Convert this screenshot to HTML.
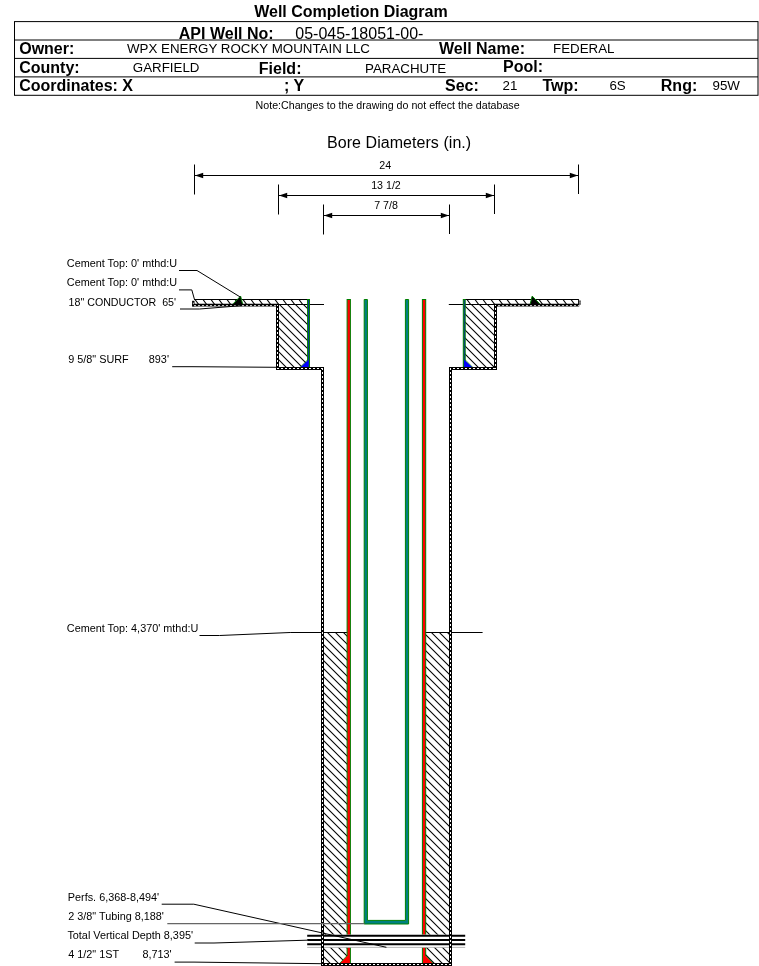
<!DOCTYPE html>
<html><head><meta charset="utf-8"><title>Well Completion Diagram</title>
<style>
html,body{margin:0;padding:0;background:#fff;}
body{width:759px;height:966px;overflow:hidden;font-family:"Liberation Sans",sans-serif;}
svg{display:block;position:absolute;left:0;top:0;will-change:transform;}
text{font-family:"Liberation Sans",sans-serif;fill:#000;white-space:pre;}
.b{font-weight:bold;font-size:16px;}
.v{font-size:13.33px;}
.s{font-size:10.67px;}
.l{font-size:10.85px;}
.ln{stroke:#000;stroke-width:1;fill:none;}
</style></head><body>
<svg width="759" height="966" viewBox="0 0 759 966">
<rect x="0" y="0" width="759" height="966" fill="#fff"/>

<text class="b" x="254.2" y="16.6" textLength="193.5">Well Completion Diagram</text>
<rect x="14.5" y="21.6" width="743.5" height="73.69999999999999" class="ln"/>
<line x1="14.5" y1="40.0" x2="758.0" y2="40.0" class="ln"/>
<line x1="14.5" y1="58.4" x2="758.0" y2="58.4" class="ln"/>
<line x1="14.5" y1="76.9" x2="758.0" y2="76.9" class="ln"/>
<text class="b" x="178.8" y="38.6" >API Well No:</text>
<text class="v" x="295.3" y="39.2" style="font-size:16px">05-045-18051-00-</text>
<text class="b" x="19.2" y="53.8" >Owner:</text>
<text class="v" x="127.0" y="53.4" >WPX ENERGY ROCKY MOUNTAIN LLC</text>
<text class="b" x="439.0" y="53.6" >Well Name:</text>
<text class="v" x="553.0" y="53.2" >FEDERAL</text>
<text class="b" x="19.2" y="72.5" >County:</text>
<text class="v" x="132.8" y="71.9" >GARFIELD</text>
<text class="b" x="258.8" y="74.4" >Field:</text>
<text class="v" x="365.0" y="73.3" >PARACHUTE</text>
<text class="b" x="503.0" y="72.0" >Pool:</text>
<text class="b" x="19.2" y="90.5" >Coordinates: X</text>
<text class="b" x="284.0" y="91.3" >; Y</text>
<text class="b" x="445.0" y="91.2" >Sec:</text>
<text class="v" x="502.6" y="89.8" >21</text>
<text class="b" x="542.4" y="91.2" >Twp:</text>
<text class="v" x="609.4" y="89.8" >6S</text>
<text class="b" x="660.8" y="91.2" >Rng:</text>
<text class="v" x="712.5" y="89.8" >95W</text>
<text class="s" x="255.6" y="108.7" >Note:Changes to the drawing do not effect the database</text>
<text class="v" x="327.0" y="148.1" style="font-size:16px" textLength="144.2">Bore Diameters (in.)</text>
<line x1="194.5" y1="164.5" x2="194.5" y2="194.5" class="ln"/>
<line x1="578.5" y1="164.5" x2="578.5" y2="194.0" class="ln"/>
<line x1="194.5" y1="175.5" x2="578.5" y2="175.5" class="ln"/>
<path d="M195.0,175.5 l8.2,-2.8 v5.6 z" fill="#000"/>
<path d="M578.0,175.5 l-8.2,-2.8 v5.6 z" fill="#000"/>
<text class="s" x="385.3" y="168.8" text-anchor="middle">24</text>
<line x1="278.5" y1="184.5" x2="278.5" y2="214.5" class="ln"/>
<line x1="494.5" y1="184.5" x2="494.5" y2="214.0" class="ln"/>
<line x1="278.5" y1="195.5" x2="494.5" y2="195.5" class="ln"/>
<path d="M279.0,195.5 l8.2,-2.8 v5.6 z" fill="#000"/>
<path d="M494.0,195.5 l-8.2,-2.8 v5.6 z" fill="#000"/>
<text class="s" x="386.0" y="189.0" text-anchor="middle">13 1/2</text>
<line x1="323.5" y1="204.5" x2="323.5" y2="234.5" class="ln"/>
<line x1="449.5" y1="204.5" x2="449.5" y2="234.0" class="ln"/>
<line x1="323.5" y1="215.5" x2="449.5" y2="215.5" class="ln"/>
<path d="M324.0,215.5 l8.2,-2.8 v5.6 z" fill="#000"/>
<path d="M449.0,215.5 l-8.2,-2.8 v5.6 z" fill="#000"/>
<text class="s" x="386.0" y="208.8" text-anchor="middle">7 7/8</text>
<clipPath id="c1"><polygon points="278.40,304.30 308.40,304.30 308.40,367.60 278.40,367.60"/></clipPath>
<polygon points="278.40,304.30 308.40,304.30 308.40,367.60 278.40,367.60" fill="#fff"/>
<path d="M277.40,262.50L309.40,294.50M277.40,270.50L309.40,302.50M277.40,278.50L309.40,310.50M277.40,286.50L309.40,318.50M277.40,294.50L309.40,326.50M277.40,302.50L309.40,334.50M277.40,310.50L309.40,342.50M277.40,318.50L309.40,350.50M277.40,326.50L309.40,358.50M277.40,334.50L309.40,366.50M277.40,342.50L309.40,374.50M277.40,350.50L309.40,382.50M277.40,358.50L309.40,390.50M277.40,366.50L309.40,398.50M277.40,374.50L309.40,406.50M277.40,382.50L309.40,414.50" stroke="#000" stroke-width="1.05" fill="none" clip-path="url(#c1)"/>
<clipPath id="c2"><polygon points="464.40,304.30 494.40,304.30 494.40,367.60 464.40,367.60"/></clipPath>
<polygon points="464.40,304.30 494.40,304.30 494.40,367.60 464.40,367.60" fill="#fff"/>
<path d="M463.40,264.50L495.40,296.50M463.40,272.50L495.40,304.50M463.40,280.50L495.40,312.50M463.40,288.50L495.40,320.50M463.40,296.50L495.40,328.50M463.40,304.50L495.40,336.50M463.40,312.50L495.40,344.50M463.40,320.50L495.40,352.50M463.40,328.50L495.40,360.50M463.40,336.50L495.40,368.50M463.40,344.50L495.40,376.50M463.40,352.50L495.40,384.50M463.40,360.50L495.40,392.50M463.40,368.50L495.40,400.50M463.40,376.50L495.40,408.50" stroke="#000" stroke-width="1.05" fill="none" clip-path="url(#c2)"/>
<clipPath id="c3"><polygon points="194.00,299.50 308.40,299.50 308.40,304.50 194.00,304.50"/></clipPath>
<polygon points="194.00,299.50 308.40,299.50 308.40,304.50 194.00,304.50" fill="#fff"/>
<path d="M178.26,298.50L183.44,305.50M186.26,298.50L191.44,305.50M194.26,298.50L199.44,305.50M202.26,298.50L207.44,305.50M210.26,298.50L215.44,305.50M218.26,298.50L223.44,305.50M226.26,298.50L231.44,305.50M234.26,298.50L239.44,305.50M242.26,298.50L247.44,305.50M250.26,298.50L255.44,305.50M258.26,298.50L263.44,305.50M266.26,298.50L271.44,305.50M274.26,298.50L279.44,305.50M282.26,298.50L287.44,305.50M290.26,298.50L295.44,305.50M298.26,298.50L303.44,305.50M306.26,298.50L311.44,305.50M314.26,298.50L319.44,305.50M322.26,298.50L327.44,305.50" stroke="#000" stroke-width="1.05" fill="none" clip-path="url(#c3)"/>
<line x1="194.00" y1="299.50" x2="308.40" y2="299.50" class="ln"/>
<line x1="194.00" y1="304.50" x2="308.40" y2="304.50" class="ln"/>
<clipPath id="c4"><polygon points="464.40,299.50 578.80,299.50 578.80,304.50 464.40,304.50"/></clipPath>
<polygon points="464.40,299.50 578.80,299.50 578.80,304.50 464.40,304.50" fill="#fff"/>
<path d="M450.26,298.50L455.44,305.50M458.26,298.50L463.44,305.50M466.26,298.50L471.44,305.50M474.26,298.50L479.44,305.50M482.26,298.50L487.44,305.50M490.26,298.50L495.44,305.50M498.26,298.50L503.44,305.50M506.26,298.50L511.44,305.50M514.26,298.50L519.44,305.50M522.26,298.50L527.44,305.50M530.26,298.50L535.44,305.50M538.26,298.50L543.44,305.50M546.26,298.50L551.44,305.50M554.26,298.50L559.44,305.50M562.26,298.50L567.44,305.50M570.26,298.50L575.44,305.50M578.26,298.50L583.44,305.50M586.26,298.50L591.44,305.50M594.26,298.50L599.44,305.50" stroke="#000" stroke-width="1.05" fill="none" clip-path="url(#c4)"/>
<line x1="464.40" y1="299.50" x2="578.80" y2="299.50" class="ln"/>
<line x1="464.40" y1="304.50" x2="578.80" y2="304.50" class="ln"/>
<clipPath id="c5"><polygon points="323.40,632.50 348.40,632.50 348.40,963.50 323.40,963.50"/></clipPath>
<polygon points="323.40,632.50 348.40,632.50 348.40,963.50 323.40,963.50" fill="#fff"/>
<path d="M322.40,595.50L349.40,622.50M322.40,603.50L349.40,630.50M322.40,611.50L349.40,638.50M322.40,619.50L349.40,646.50M322.40,627.50L349.40,654.50M322.40,635.50L349.40,662.50M322.40,643.50L349.40,670.50M322.40,651.50L349.40,678.50M322.40,659.50L349.40,686.50M322.40,667.50L349.40,694.50M322.40,675.50L349.40,702.50M322.40,683.50L349.40,710.50M322.40,691.50L349.40,718.50M322.40,699.50L349.40,726.50M322.40,707.50L349.40,734.50M322.40,715.50L349.40,742.50M322.40,723.50L349.40,750.50M322.40,731.50L349.40,758.50M322.40,739.50L349.40,766.50M322.40,747.50L349.40,774.50M322.40,755.50L349.40,782.50M322.40,763.50L349.40,790.50M322.40,771.50L349.40,798.50M322.40,779.50L349.40,806.50M322.40,787.50L349.40,814.50M322.40,795.50L349.40,822.50M322.40,803.50L349.40,830.50M322.40,811.50L349.40,838.50M322.40,819.50L349.40,846.50M322.40,827.50L349.40,854.50M322.40,835.50L349.40,862.50M322.40,843.50L349.40,870.50M322.40,851.50L349.40,878.50M322.40,859.50L349.40,886.50M322.40,867.50L349.40,894.50M322.40,875.50L349.40,902.50M322.40,883.50L349.40,910.50M322.40,891.50L349.40,918.50M322.40,899.50L349.40,926.50M322.40,907.50L349.40,934.50M322.40,915.50L349.40,942.50M322.40,923.50L349.40,950.50M322.40,931.50L349.40,958.50M322.40,939.50L349.40,966.50M322.40,947.50L349.40,974.50M322.40,955.50L349.40,982.50M322.40,963.50L349.40,990.50M322.40,971.50L349.40,998.50" stroke="#000" stroke-width="1.05" fill="none" clip-path="url(#c5)"/>
<line x1="323.40" y1="632.50" x2="348.40" y2="632.50" class="ln"/>
<clipPath id="c6"><polygon points="424.40,632.50 449.40,632.50 449.40,963.50 424.40,963.50"/></clipPath>
<polygon points="424.40,632.50 449.40,632.50 449.40,963.50 424.40,963.50" fill="#fff"/>
<path d="M423.40,592.50L450.40,619.50M423.40,600.50L450.40,627.50M423.40,608.50L450.40,635.50M423.40,616.50L450.40,643.50M423.40,624.50L450.40,651.50M423.40,632.50L450.40,659.50M423.40,640.50L450.40,667.50M423.40,648.50L450.40,675.50M423.40,656.50L450.40,683.50M423.40,664.50L450.40,691.50M423.40,672.50L450.40,699.50M423.40,680.50L450.40,707.50M423.40,688.50L450.40,715.50M423.40,696.50L450.40,723.50M423.40,704.50L450.40,731.50M423.40,712.50L450.40,739.50M423.40,720.50L450.40,747.50M423.40,728.50L450.40,755.50M423.40,736.50L450.40,763.50M423.40,744.50L450.40,771.50M423.40,752.50L450.40,779.50M423.40,760.50L450.40,787.50M423.40,768.50L450.40,795.50M423.40,776.50L450.40,803.50M423.40,784.50L450.40,811.50M423.40,792.50L450.40,819.50M423.40,800.50L450.40,827.50M423.40,808.50L450.40,835.50M423.40,816.50L450.40,843.50M423.40,824.50L450.40,851.50M423.40,832.50L450.40,859.50M423.40,840.50L450.40,867.50M423.40,848.50L450.40,875.50M423.40,856.50L450.40,883.50M423.40,864.50L450.40,891.50M423.40,872.50L450.40,899.50M423.40,880.50L450.40,907.50M423.40,888.50L450.40,915.50M423.40,896.50L450.40,923.50M423.40,904.50L450.40,931.50M423.40,912.50L450.40,939.50M423.40,920.50L450.40,947.50M423.40,928.50L450.40,955.50M423.40,936.50L450.40,963.50M423.40,944.50L450.40,971.50M423.40,952.50L450.40,979.50M423.40,960.50L450.40,987.50M423.40,968.50L450.40,995.50M423.40,976.50L450.40,1003.50" stroke="#000" stroke-width="1.05" fill="none" clip-path="url(#c6)"/>
<line x1="424.40" y1="632.50" x2="449.40" y2="632.50" class="ln"/>
<line x1="309.4" y1="304.5" x2="324.0" y2="304.5" class="ln"/>
<line x1="448.79999999999995" y1="304.5" x2="463.4" y2="304.5" class="ln"/>
<line x1="449.4" y1="632.5" x2="482.6" y2="632.5" class="ln"/>
<rect x="307.59999999999997" y="299.5" width="1.9" height="67.60000000000002" fill="#0a2fa0" stroke="#008000" stroke-width="1"/>
<rect x="463.29999999999995" y="299.5" width="1.9" height="67.60000000000002" fill="#0a2fa0" stroke="#008000" stroke-width="1"/>
<path d="M308.59999999999997,359.6 L308.59999999999997,367.20000000000005 L300.2,367.20000000000005 z" fill="#0000ff"/>
<path d="M307.79999999999995,359.6 L300.2,367.20000000000005" stroke="#008000" stroke-width="0.7" fill="none"/>
<path d="M464.2,359.6 L464.2,367.20000000000005 L472.59999999999997,367.20000000000005 z" fill="#0000ff"/>
<path d="M465.0,359.6 L472.59999999999997,367.20000000000005" stroke="#008000" stroke-width="0.7" fill="none"/>
<path d="M240.59999999999997,296.1 L242.59999999999997,304.3 L232.99999999999997,304.3 z" fill="#000"/>
<path d="M232.99999999999997,303.9 L240.59999999999997,296.1 L242.59999999999997,303.9" fill="none" stroke="#008000" stroke-width="1" stroke-linejoin="round"/>
<path d="M532.1999999999999,296.1 L530.1999999999999,304.3 L539.8,304.3 z" fill="#000"/>
<path d="M539.8,303.9 L532.1999999999999,296.1 L530.1999999999999,303.9" fill="none" stroke="#008000" stroke-width="1" stroke-linejoin="round"/>
<rect x="347.09999999999997" y="299.5" width="3.3" height="664.0" fill="#ff0000" stroke="#008000" stroke-width="1"/>
<rect x="422.4" y="299.5" width="3.3" height="664.0" fill="#ff0000" stroke="#008000" stroke-width="1"/>
<path d="M348.0,955.1 L348.0,963.2 L339.79999999999995,963.2 z" fill="#ff0000"/>
<path d="M347.5,955.1 L339.79999999999995,963.2" stroke="#008000" stroke-width="0.8" fill="none"/>
<path d="M424.79999999999995,955.1 L424.79999999999995,963.2 L433.0,963.2 z" fill="#ff0000"/>
<path d="M425.29999999999995,955.1 L433.0,963.2" stroke="#008000" stroke-width="0.8" fill="none"/>
<path d="M364.2,299.5 H367.4 V920.4 H405.4 V299.5 H408.59999999999997 V924.0 H364.2 z" fill="#008080" stroke="#008000" stroke-width="1"/>
<rect x="307.2" y="934.6" width="158" height="12.6" fill="#fff"/>
<line x1="307.2" y1="935.8" x2="465.2" y2="935.8" stroke="#000" stroke-width="1.9"/>
<line x1="307.2" y1="940.0" x2="465.2" y2="940.0" stroke="#000" stroke-width="1.9"/>
<line x1="307.2" y1="944.2" x2="465.2" y2="944.2" stroke="#000" stroke-width="1.9"/>
<line x1="307.2" y1="947.4" x2="465.2" y2="947.4" stroke="#b0b0b0" stroke-width="0.9"/>
<path d="M277.5,304V370M322.5,367V966M450.5,367V966M495.5,304V370M276,368.5H324M321,964.5H452M449,368.5H497" stroke="#000" stroke-width="3" fill="none"/>
<path d="M192.2,305.15H279M494,305.15H579.2" stroke="#000" stroke-width="2.7" fill="none"/>
<path d="M193.3,300.8V306.4" stroke="#000" stroke-width="2.4" fill="none"/>
<path d="M580.0,300.6V304.8" stroke="#555" stroke-width="1.8" fill="none"/>
<path d="M578.6,299.5V304.5" stroke="#000" stroke-width="1" fill="none"/>
<path d="M277.5,305V369" stroke="#fff" stroke-width="1" fill="none" stroke-dasharray="2 2" stroke-dashoffset="1"/>
<path d="M322.5,368V965" stroke="#fff" stroke-width="1" fill="none" stroke-dasharray="2 2" stroke-dashoffset="0"/>
<path d="M450.5,368V965" stroke="#fff" stroke-width="1" fill="none" stroke-dasharray="2 2" stroke-dashoffset="0"/>
<path d="M495.5,305V369" stroke="#fff" stroke-width="1" fill="none" stroke-dasharray="2 2" stroke-dashoffset="1"/>
<path d="M277,368.5H323" stroke="#fff" stroke-width="1" fill="none" stroke-dasharray="2 2" stroke-dashoffset="0"/>
<path d="M322,964.5H451" stroke="#fff" stroke-width="1" fill="none" stroke-dasharray="2 2" stroke-dashoffset="1"/>
<path d="M450,368.5H496" stroke="#fff" stroke-width="1" fill="none" stroke-dasharray="2 2" stroke-dashoffset="1"/>
<path d="M194,305.6H276M498,305.6H579" stroke="#e8e8e8" stroke-width="0.9" fill="none" stroke-dasharray="2 2" stroke-dashoffset="0"/>
<path d="M193.4,302.6V304.2" stroke="#ddd" stroke-width="0.9" fill="none"/>
<path d="M580.0,301.8V303.4" stroke="#aaa" stroke-width="0.9" fill="none"/>
<text class="l" x="66.8" y="267.2" >Cement Top: 0' mthd:U</text>
<polyline points="179,270.5 197,270.5 240.5,297.2" class="ln"/>
<text class="l" x="66.8" y="286.2" >Cement Top: 0' mthd:U</text>
<polyline points="179,289.9 191.8,289.9 194.4,299.2" class="ln"/>
<text class="s" x="68.6" y="305.5" >18" CONDUCTOR  65'</text>
<polyline points="180,309 199.6,309 242,305.6" class="ln"/>
<text class="l" x="68.2" y="363.1" >9 5/8" SURF</text>
<text class="l" x="148.8" y="363.1" >893'</text>
<polyline points="172.2,366.7 192,366.7 277,367.3" class="ln"/>
<text class="l" x="66.8" y="632.4" >Cement Top: 4,370' mthd:U</text>
<polyline points="199.5,635.5 219.5,635.5 290.2,632.5 322,632.5" class="ln"/>
<text class="l" x="67.8" y="900.6" >Perfs. 6,368-8,494'</text>
<polyline points="161.7,904.2 193.8,904.2 386.4,947.3" class="ln"/>
<text class="l" x="68.2" y="920.0" >2 3/8" Tubing 8,188'</text>
<polyline points="167.3,923.6 364.4,923.6" stroke="#666" stroke-width="1.2" fill="none"/>
<text class="l" x="67.4" y="939.0" >Total Vertical Depth 8,395'</text>
<polyline points="194.7,943 214,943 307,940.2" class="ln"/>
<text class="l" x="68.2" y="958.2" >4 1/2" 1ST</text>
<text class="l" x="142.4" y="958.2" >8,713'</text>
<polyline points="174.6,962.1 194,962.1 321,963.7" class="ln"/>
</svg></body></html>
